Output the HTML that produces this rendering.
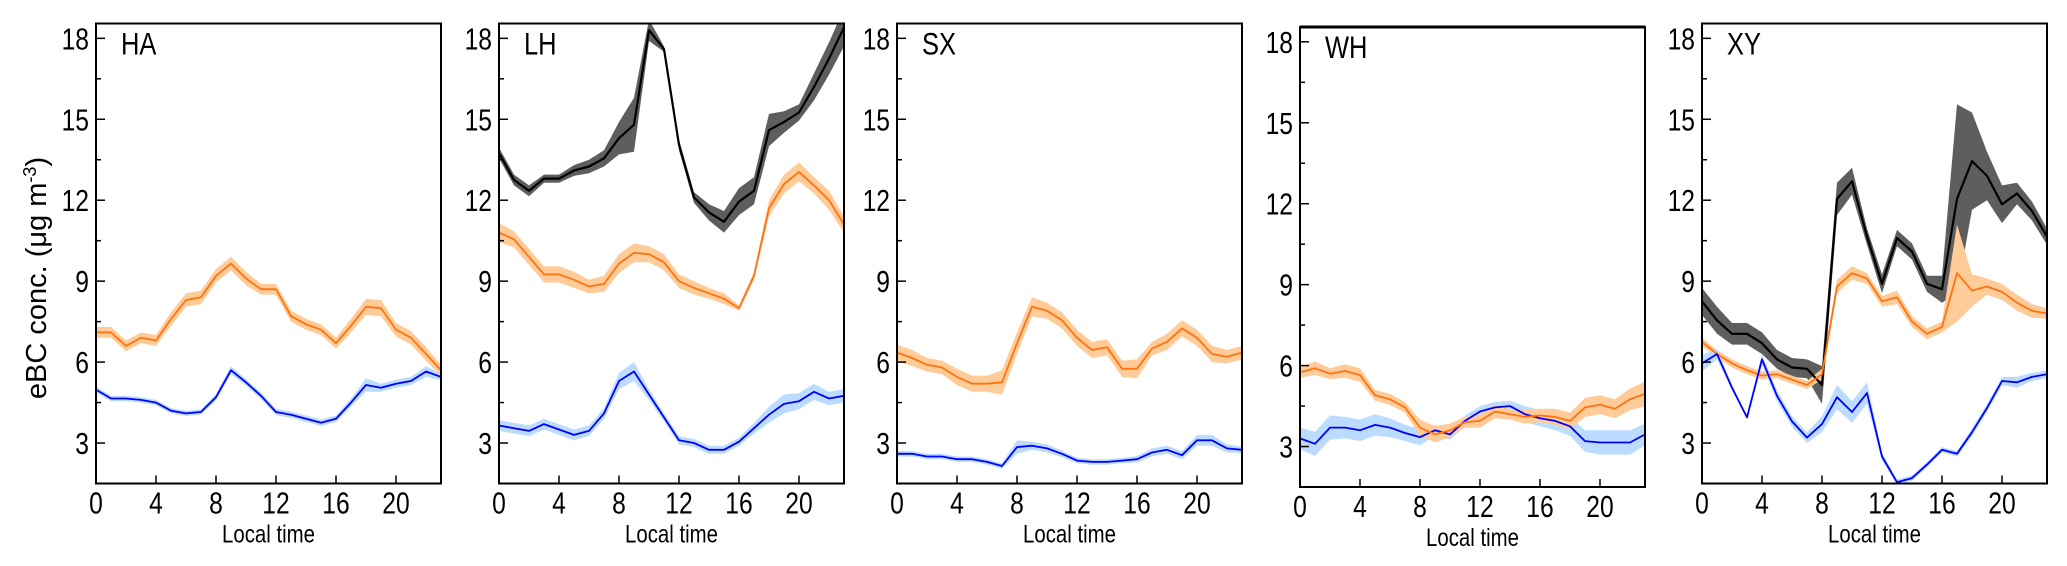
<!DOCTYPE html>
<html><head><meta charset="utf-8"><style>
html,body{margin:0;padding:0;background:#fff;}
svg{display:block;font-family:"Liberation Sans",sans-serif;}
</style></head><body>
<svg id="chart" width="2067" height="566" viewBox="0 0 2067 566">
<text transform="translate(46,278) rotate(-90)" text-anchor="middle" font-size="29" fill="#000">eBC conc. (μg m<tspan font-size="18" dy="-10">-3</tspan><tspan dy="10">)</tspan></text>
</svg>
<script>
const hours=[0,1,2,3,4,5,6,7,8,9,10,11,12,13,14,15,16,17,18,19,20,21,22,23];
const siteNames=["HA","LH","SX","WH","XY"];
const yTicks=[3,6,9,12,15,18];
const xTicks=[0,4,8,12,16,20];
// HA
const haOrange=[7.1,7.1,6.6,6.9,6.8,7.6,8.3,8.4,9.2,9.65,9.1,8.7,8.7,7.7,7.4,7.2,6.7,7.35,8.05,8.0,7.2,6.9,6.3,5.7];
const haOrangeErr=[0.2,0.2,0.2,0.2,0.2,0.25,0.25,0.25,0.25,0.25,0.25,0.2,0.2,0.2,0.2,0.2,0.2,0.25,0.3,0.3,0.25,0.25,0.25,0.2];
const haBlue=[4.98,4.65,4.65,4.6,4.5,4.2,4.1,4.15,4.7,5.7,5.25,4.75,4.15,4.05,3.9,3.75,3.9,4.5,5.15,5.05,5.2,5.3,5.65,5.45];
const haBlueErr=[0.12,0.1,0.1,0.1,0.1,0.1,0.1,0.1,0.12,0.15,0.12,0.12,0.12,0.12,0.12,0.12,0.12,0.15,0.25,0.15,0.15,0.15,0.2,0.12];
// LH
const lhBlack=[13.75,12.75,12.35,12.8,12.8,13.1,13.25,13.55,14.3,14.8,18.3,17.6,14.05,12.1,11.55,11.2,11.95,12.35,14.6,14.9,15.25,16.2,17.25,18.4];
const lhBlackErr=[0.2,0.2,0.2,0.15,0.15,0.2,0.25,0.3,0.6,1.0,0.4,0.1,0.2,0.2,0.3,0.4,0.5,0.5,0.6,0.4,0.3,0.5,0.6,0.7];
const lhOrange=[10.8,10.55,9.9,9.25,9.25,9.05,8.8,8.9,9.65,10.05,10.0,9.7,9.0,8.75,8.55,8.35,8.0,9.2,11.7,12.6,13.05,12.55,12.0,11.1];
const lhOrangeErr=[0.35,0.3,0.3,0.3,0.3,0.3,0.25,0.3,0.35,0.35,0.3,0.3,0.25,0.25,0.2,0.2,0.1,0.15,0.3,0.35,0.35,0.3,0.35,0.3];
const lhBlue=[3.65,3.55,3.45,3.7,3.5,3.3,3.45,4.1,5.3,5.65,4.8,3.95,3.1,3.0,2.75,2.75,3.05,3.55,4.05,4.45,4.55,4.9,4.65,4.75];
const lhBlueErr=[0.2,0.2,0.2,0.2,0.2,0.2,0.2,0.2,0.3,0.35,0.2,0.15,0.15,0.15,0.15,0.15,0.15,0.2,0.3,0.35,0.3,0.3,0.25,0.25];
// SX
const sxOrange=[6.35,6.15,5.9,5.8,5.45,5.2,5.2,5.25,6.7,8.05,7.9,7.55,6.9,6.45,6.55,5.75,5.75,6.5,6.75,7.25,6.9,6.3,6.2,6.35];
const sxOrangeErr=[0.3,0.3,0.25,0.25,0.3,0.3,0.3,0.45,0.4,0.35,0.3,0.3,0.3,0.3,0.3,0.3,0.35,0.25,0.3,0.3,0.3,0.3,0.25,0.25];
const sxBlue=[2.6,2.6,2.5,2.5,2.4,2.4,2.3,2.15,2.85,2.9,2.8,2.6,2.35,2.3,2.3,2.35,2.4,2.65,2.75,2.55,3.1,3.1,2.8,2.75];
const sxBlueErr=[0.1,0.1,0.1,0.1,0.1,0.1,0.1,0.1,0.25,0.15,0.15,0.12,0.1,0.1,0.1,0.1,0.12,0.15,0.15,0.15,0.2,0.2,0.15,0.12];
// WH
const whOrange=[5.75,5.9,5.7,5.8,5.65,4.9,4.75,4.45,3.7,3.45,3.6,3.9,3.95,4.3,4.2,4.1,4.15,4.1,3.95,4.45,4.55,4.4,4.75,4.95];
const whOrangeErr=[0.2,0.25,0.2,0.25,0.25,0.2,0.2,0.2,0.3,0.3,0.25,0.2,0.25,0.25,0.2,0.25,0.25,0.3,0.3,0.35,0.35,0.35,0.4,0.45];
const whBlue=[3.3,3.1,3.7,3.7,3.6,3.8,3.7,3.5,3.35,3.6,3.45,3.95,4.3,4.45,4.5,4.2,4.05,3.95,3.75,3.2,3.15,3.15,3.15,3.45];
const whBlueErr=[0.4,0.45,0.45,0.4,0.4,0.4,0.35,0.3,0.3,0.2,0.2,0.2,0.2,0.2,0.2,0.3,0.3,0.35,0.35,0.4,0.45,0.45,0.45,0.4];
// XY
const xyBlack=[8.25,7.55,7.05,7.05,6.7,6.1,5.8,5.75,5.15,12.05,12.7,10.65,8.9,10.6,10.1,8.9,8.7,12.05,13.45,12.9,11.85,12.25,11.6,10.65];
const xyBlackErr=[0.5,0.5,0.4,0.4,0.4,0.35,0.35,0.35,0.7,0.6,0.5,0.3,0.35,0.3,0.3,0.3,0.5,3.5,1.8,0.9,0.7,0.4,0.35,0.3];
const xyOrange=[6.75,6.3,5.95,5.7,5.5,5.55,5.35,5.15,5.55,8.8,9.3,9.1,8.25,8.4,7.5,7.05,7.3,9.3,8.65,8.8,8.6,8.2,7.9,7.8];
const xyOrangeErr=[0.15,0.15,0.15,0.15,0.15,0.15,0.15,0.15,0.2,0.25,0.25,0.2,0.2,0.25,0.2,0.2,0.2,1.8,0.6,0.3,0.3,0.3,0.25,0.2];
const xyBlue=[5.95,6.3,5.05,3.95,6.1,4.75,3.8,3.2,3.7,4.7,4.15,4.85,2.5,1.55,1.7,2.2,2.75,2.6,3.4,4.3,5.3,5.25,5.45,5.55];
const xyBlueErr=[0.3,0.2,0.1,0.05,0.2,0.2,0.2,0.2,0.3,0.45,0.4,0.4,0.15,0.1,0.1,0.1,0.1,0.1,0.15,0.15,0.15,0.2,0.15,0.15];

const panelSeries=[
 [[haOrange,haOrangeErr,"o"],[haBlue,haBlueErr,"b"]],
 [[lhBlack,lhBlackErr,"k"],[lhOrange,lhOrangeErr,"o"],[lhBlue,lhBlueErr,"b"]],
 [[sxOrange,sxOrangeErr,"o"],[sxBlue,sxBlueErr,"b"]],
 [[whBlue,whBlueErr,"b"],[whOrange,whOrangeErr,"o"]],
 [[xyBlack,xyBlackErr,"k"],[xyOrange,xyOrangeErr,"o"],[xyBlue,xyBlueErr,"b"]]
];
const lineCol={o:"#ff7410",b:"#0000ff",k:"#000000"};
const bandCol={o:"#ffcb99",b:"#bcdcff",k:"#5e5e5e"};
const seriesName={o:"orange-series",b:"blue-series",k:"black-series"};

const NS="http://www.w3.org/2000/svg";
const svg=document.getElementById("chart");
function mk(tag,attrs,parent){const e=document.createElementNS(NS,tag);for(const k in attrs)e.setAttribute(k,attrs[k]);(parent||svg).appendChild(e);return e;}
function ctext(x,y,anchor,size,str,parent){
  return mk("text",{transform:"translate("+x+","+y+") scale(0.85,1.05)","text-anchor":anchor,"font-size":size,fill:"#000"},parent);
}

const lefts=[96,499,897,1300,1702];
const W=345, H=460, YMIN=1.5, YMAX=18.55, XMAX=23;
siteNames.forEach((name,pi)=>{
  const L=lefts[pi], T=(pi===3)?27:23.5;
  const xs=v=>L+v/XMAX*W;
  const ys=v=>T+H-(v-YMIN)/(YMAX-YMIN)*H;
  const g=mk("g",{});
  
  
  const cid="clip"+pi;
  const cp=mk("clipPath",{id:cid},g);
  mk("rect",{x:L,y:T,width:W,height:H},cp);
  const plot=mk("g",{"clip-path":"url(#"+cid+")"},g);
  panelSeries[pi].forEach(([vals,err,c])=>{
    let top="",bot="";
    hours.forEach((h,i)=>{top+=(i?"L":"M")+xs(h).toFixed(1)+","+ys(vals[i]+err[i]).toFixed(1);});
    for(let i=hours.length-1;i>=0;i--){bot+="L"+xs(hours[i]).toFixed(1)+","+ys(vals[i]-err[i]).toFixed(1);}
    const band=mk("path",{d:top+bot+"Z",fill:bandCol[c],stroke:"none"},plot);
    
    
  });
  panelSeries[pi].forEach(([vals,err,c])=>{
    let d="";
    hours.forEach((h,i)=>{d+=(i?"L":"M")+xs(h).toFixed(1)+","+ys(vals[i]).toFixed(1);});
    const ln=mk("path",{d:d,fill:"none",stroke:lineCol[c],"stroke-width":c==="k"?2.2:1.8,"stroke-linejoin":"round"},plot);
    
    
  });
  const fr=mk("rect",{x:L,y:T,width:W,height:H,fill:"none",stroke:"#000","stroke-width":2},g);
  
  
  if(pi===3){mk("line",{x1:L,x2:L+W,y1:T,y2:T,stroke:"#000","stroke-width":3},g);}
  for(let v=3;v<=18;v+=1.5){
    const major=Number.isInteger(v/3);
    mk("line",{x1:L,x2:L+(major?9:5),y1:ys(v),y2:ys(v),stroke:"#000","stroke-width":1.5},g);
  }
  yTicks.forEach(v=>{
    const t=ctext(L-7,ys(v)+11,"end",29,v,g);
    t.textContent=v;
    
    
  });
  xTicks.forEach(v=>{
    mk("line",{x1:xs(v),x2:xs(v),y1:T+H,y2:T+H-8,stroke:"#000","stroke-width":1.5},g);
    const t=ctext(xs(v),T+H+30,"middle",29,v,g);
    t.textContent=v;
    
    
  });
  const xl=ctext(L+W/2,T+H+59,"middle",24,"",g);
  xl.textContent="Local time";
  
  
  const pl=ctext(L+25,T+31,"start",30,"",g);
  pl.textContent=name;
  
  
});
</script>
</body></html>
